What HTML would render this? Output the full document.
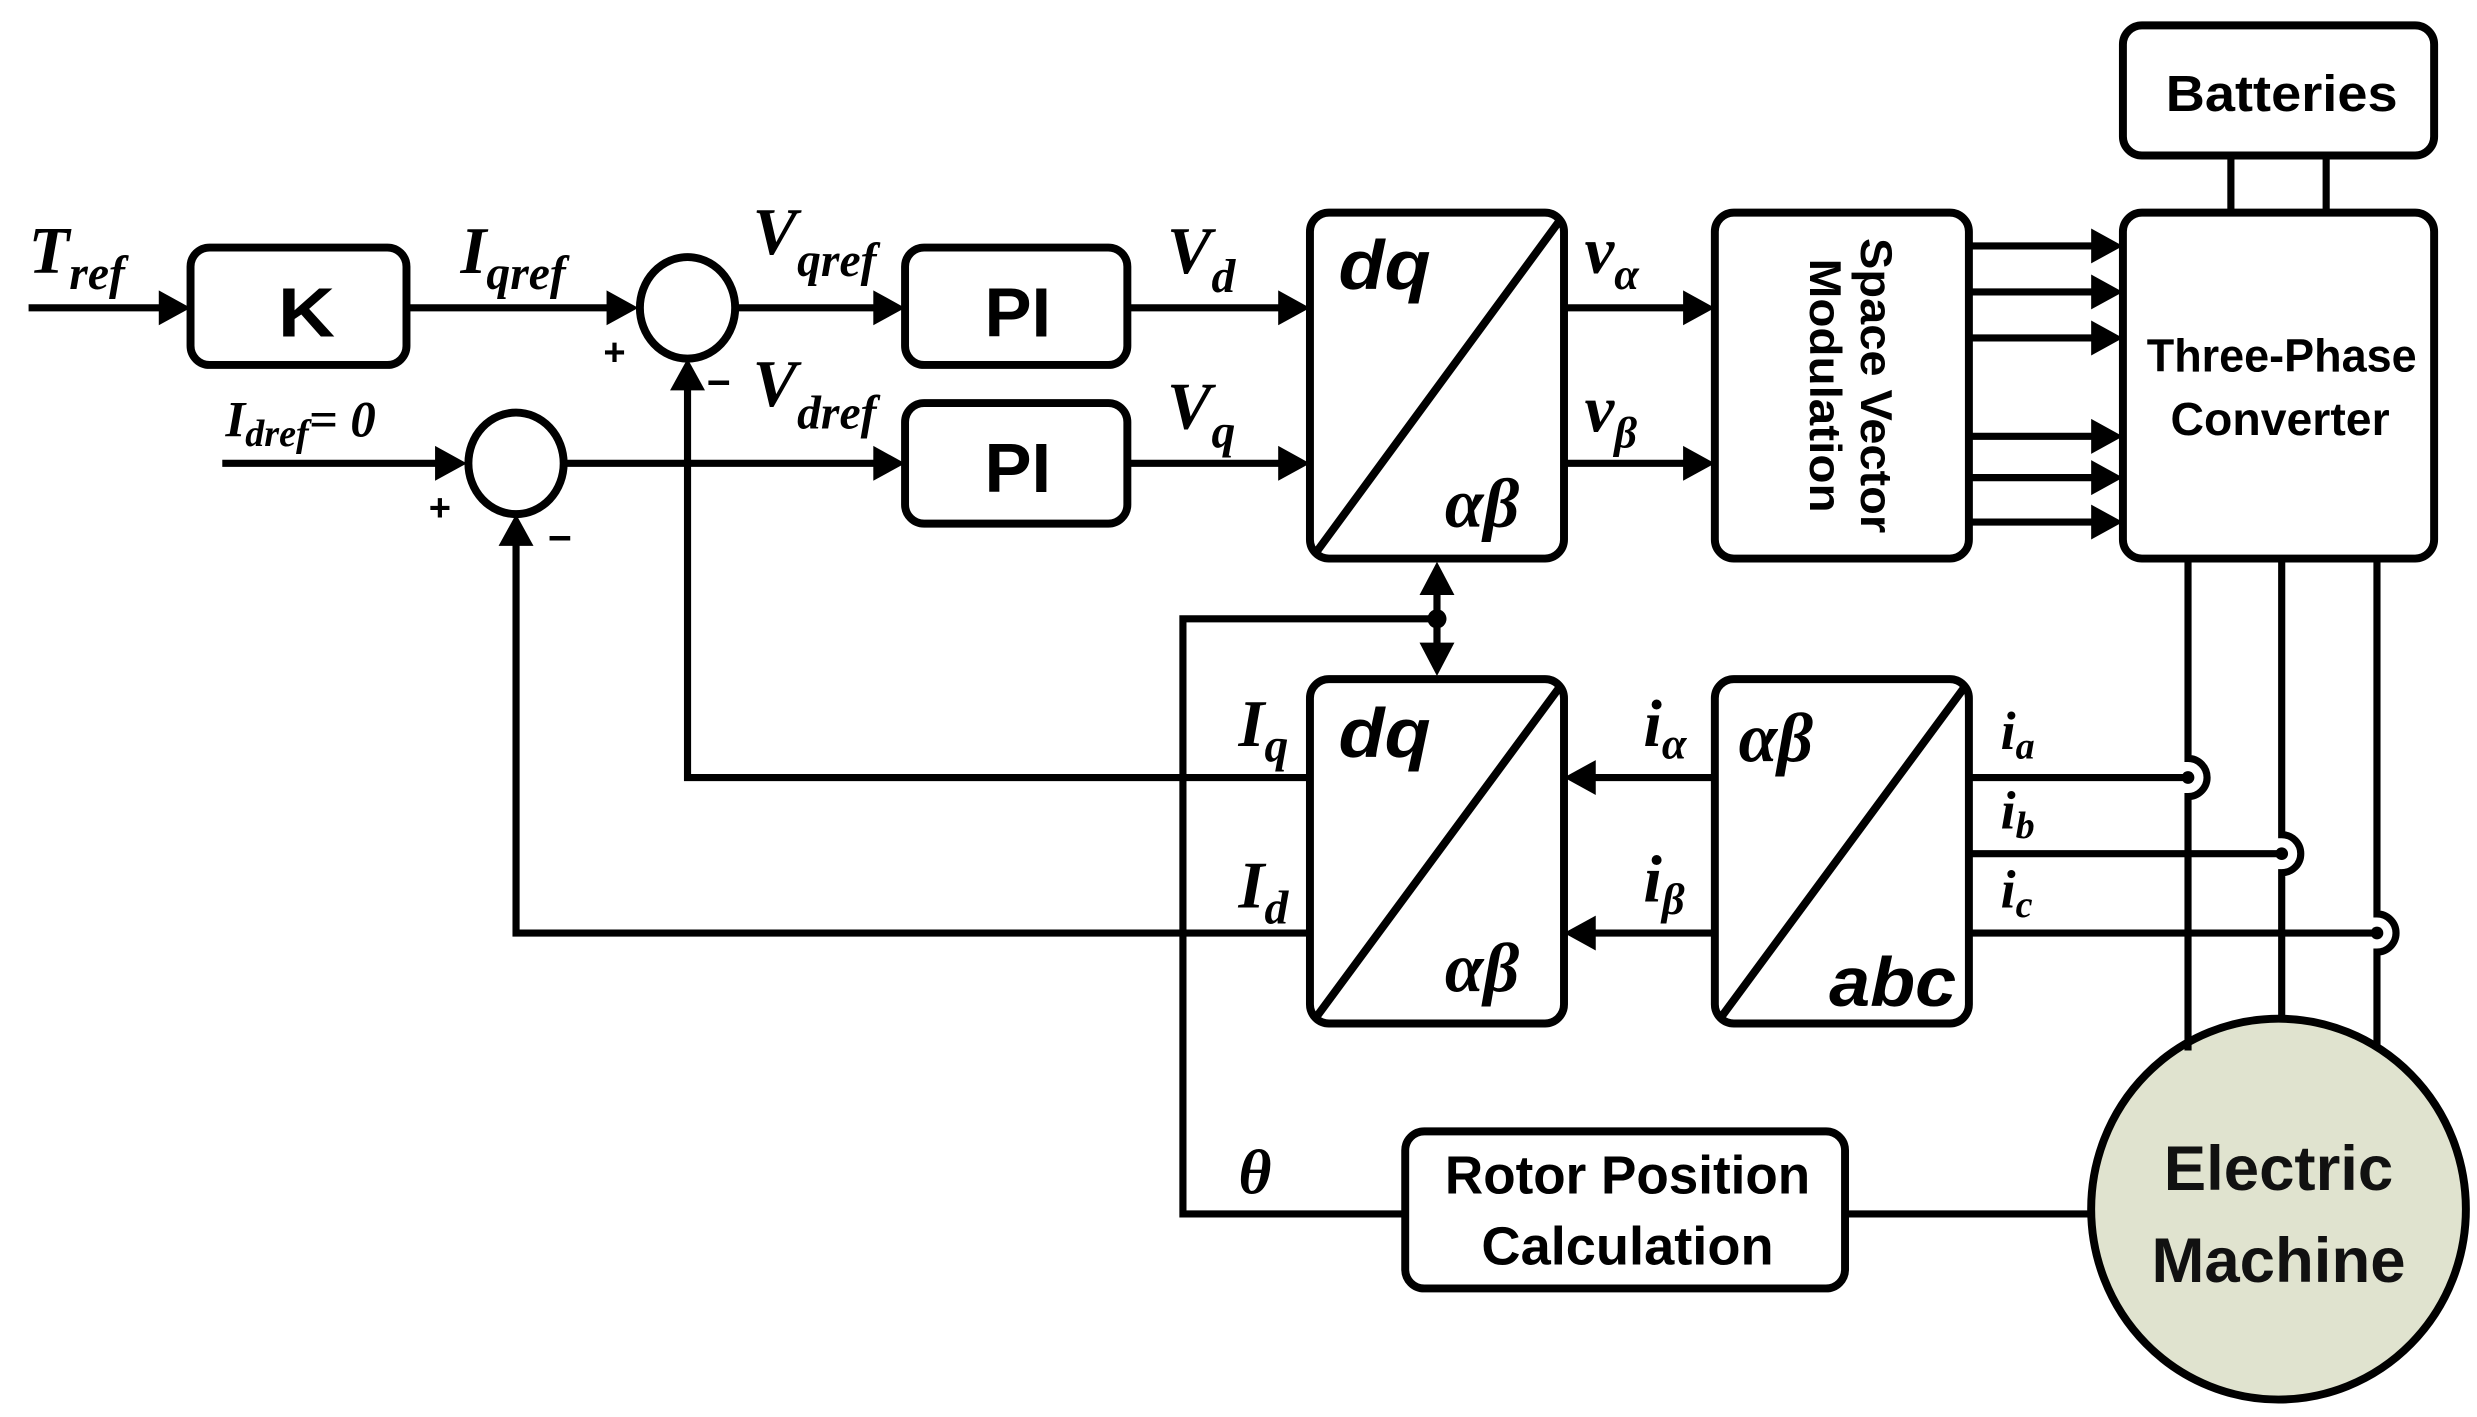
<!DOCTYPE html>
<html><head><meta charset="utf-8"><style>html,body{margin:0;padding:0;background:#fff}svg{display:block}</style></head>
<body>
<svg width="2477" height="1417" viewBox="0 0 1560 893" preserveAspectRatio="none" xmlns="http://www.w3.org/2000/svg">
<g fill="none" stroke="#000" stroke-width="5" stroke-linejoin="round">
<rect x="120" y="156" width="136" height="74" rx="12"/>
<rect x="570" y="156" width="140" height="74" rx="12"/>
<rect x="570" y="254" width="140" height="76" rx="12"/>
<rect x="825" y="134" width="160" height="218" rx="12"/>
<line x1="829" y1="348" x2="983" y2="138"/>
<rect x="1080" y="134" width="160" height="218" rx="12"/>
<rect x="1337" y="134" width="196" height="218" rx="12"/>
<rect x="1337" y="16" width="196" height="82" rx="12"/>
<rect x="825" y="428" width="160" height="217" rx="12"/>
<line x1="829" y1="641" x2="983" y2="432"/>
<rect x="1080" y="428" width="160" height="217" rx="12"/>
<line x1="1084" y1="641" x2="1238" y2="432"/>
<rect x="885" y="713" width="277" height="99" rx="12"/>
<ellipse cx="433" cy="194" rx="30" ry="32"/>
<ellipse cx="325" cy="292" rx="30" ry="32"/>
<ellipse cx="1435" cy="762" rx="118" ry="120" fill="#e0e3cf"/>
</g>
<g fill="none" stroke="#000" stroke-width="4.5">
<line x1="18" y1="194" x2="105" y2="194"/>
<line x1="256" y1="194" x2="385" y2="194"/>
<line x1="464" y1="194" x2="555" y2="194"/>
<line x1="140" y1="292" x2="278" y2="292"/>
<line x1="356" y1="292" x2="555" y2="292"/>
<line x1="710" y1="194" x2="810" y2="194"/>
<line x1="710" y1="292" x2="810" y2="292"/>
<line x1="985" y1="194" x2="1065" y2="194"/>
<line x1="985" y1="292" x2="1065" y2="292"/>
<line x1="1240" y1="155" x2="1322" y2="155"/>
<line x1="1240" y1="184" x2="1322" y2="184"/>
<line x1="1240" y1="213" x2="1322" y2="213"/>
<line x1="1240" y1="275" x2="1322" y2="275"/>
<line x1="1240" y1="301" x2="1322" y2="301"/>
<line x1="1240" y1="329" x2="1322" y2="329"/>
<line x1="1405" y1="98" x2="1405" y2="134"/>
<line x1="1465" y1="98" x2="1465" y2="134"/>
<polyline points="433,240 433,490 825,490"/>
<polyline points="325,338 325,588 825,588"/>
<line x1="1080" y1="490" x2="1000" y2="490"/>
<line x1="1080" y1="588" x2="1000" y2="588"/>
<polyline points="905,390 745,390 745,765 885,765"/>
<line x1="905" y1="370" x2="905" y2="410"/>
<line x1="1162" y1="765" x2="1317" y2="765"/>
<line x1="1240" y1="490" x2="1378" y2="490"/>
<line x1="1240" y1="538" x2="1437" y2="538"/>
<line x1="1240" y1="588" x2="1497" y2="588"/>
<path d="M1378 352 V478 A12 12 0 0 1 1378 502 V662"/>
<path d="M1437 352 V526 A12 12 0 0 1 1437 550 V643"/>
<path d="M1497 352 V576 A12 12 0 0 1 1497 600 V660"/>
</g>
<g fill="#000">
<polygon points="120,194 100,183 100,205"/>
<polygon points="402,194 382,183 382,205"/>
<polygon points="570,194 550,183 550,205"/>
<polygon points="294,292 274,281 274,303"/>
<polygon points="570,292 550,281 550,303"/>
<polygon points="825,194 805,183 805,205"/>
<polygon points="825,292 805,281 805,303"/>
<polygon points="1080,194 1060,183 1060,205"/>
<polygon points="1080,292 1060,281 1060,303"/>
<polygon points="1337,155 1317,144 1317,166"/>
<polygon points="1337,184 1317,173 1317,195"/>
<polygon points="1337,213 1317,202 1317,224"/>
<polygon points="1337,275 1317,264 1317,286"/>
<polygon points="1337,301 1317,290 1317,312"/>
<polygon points="1337,329 1317,318 1317,340"/>
<polygon points="433,226 422,246 444,246"/>
<polygon points="325,324 314,344 336,344"/>
<polygon points="985,490 1005,479 1005,501"/>
<polygon points="985,588 1005,577 1005,599"/>
<polygon points="905,354 894,375 916,375"/>
<polygon points="905,426 894,405 916,405"/>
<circle cx="905" cy="390" r="6"/>
<circle cx="1378" cy="490" r="4"/>
<circle cx="1437" cy="538" r="4"/>
<circle cx="1497" cy="588" r="4"/>
</g>
<g font-family="Liberation Serif, serif" font-style="italic" font-weight="bold" fill="#000">
<text x="18" y="172" font-size="42">T<tspan font-size="30" dy="10">ref</tspan></text>
<text x="290" y="172" font-size="42">I<tspan font-size="30" dy="10">qref</tspan></text>
<text x="474" y="160" font-size="42">V<tspan font-size="30" dy="14">qref</tspan></text>
<text x="474" y="256" font-size="42">V<tspan font-size="30" dy="14">dref</tspan></text>
<text x="142" y="275" font-size="32">I<tspan font-size="24" dy="6">dref</tspan><tspan dy="-6">= 0</tspan></text>
<text x="735" y="172" font-size="42">V<tspan font-size="30" dy="12">d</tspan></text>
<text x="735" y="270" font-size="42">V<tspan font-size="30" dy="12">q</tspan></text>
<text x="998" y="172" font-size="42">v<tspan font-size="28" dy="10">α</tspan></text>
<text x="998" y="272" font-size="42">v<tspan font-size="28" dy="10">β</tspan></text>
<text x="910" y="332" font-size="44">αβ</text>
<text x="910" y="625" font-size="44">αβ</text>
<text x="1095" y="480" font-size="44">αβ</text>
<text x="780" y="470" font-size="42">I<tspan font-size="30" dy="10">q</tspan></text>
<text x="780" y="572" font-size="42">I<tspan font-size="30" dy="10">d</tspan></text>
<text x="1035" y="470" font-size="42">i<tspan font-size="28" dy="8">α</tspan></text>
<text x="1035" y="568" font-size="42">i<tspan font-size="28" dy="8">β</tspan></text>
<text x="1260" y="472" font-size="34">i<tspan font-size="24" dy="6">a</tspan></text>
<text x="1260" y="522" font-size="34">i<tspan font-size="24" dy="6">b</tspan></text>
<text x="1260" y="572" font-size="34">i<tspan font-size="24" dy="6">c</tspan></text>
<text x="780" y="752" font-size="40">θ</text>
</g>
<g font-family="Liberation Sans, sans-serif" font-weight="bold" fill="#000">
<text x="175" y="212" font-size="44" textLength="36" lengthAdjust="spacingAndGlyphs">K</text>
<text x="620" y="212" font-size="44" textLength="42" lengthAdjust="spacingAndGlyphs">PI</text>
<text x="620" y="310" font-size="44" textLength="42" lengthAdjust="spacingAndGlyphs">PI</text>
<text x="380" y="230" font-size="24">+</text>
<text x="445" y="250" font-size="26">−</text>
<text x="270" y="328" font-size="24">+</text>
<text x="345" y="348" font-size="26">−</text>
<text x="843" y="182" font-size="44" font-style="italic" textLength="58" lengthAdjust="spacingAndGlyphs">dq</text>
<text x="843" y="477" font-size="44" font-style="italic" textLength="58" lengthAdjust="spacingAndGlyphs">dq</text>
<text x="1152" y="634" font-size="44" font-style="italic" textLength="80" lengthAdjust="spacingAndGlyphs">abc</text>
<text x="1364" y="70" font-size="32" textLength="146" lengthAdjust="spacingAndGlyphs">Batteries</text>
<text x="1352" y="234" font-size="29" textLength="170" lengthAdjust="spacingAndGlyphs">Three-Phase</text>
<text x="1367" y="274" font-size="29" textLength="138" lengthAdjust="spacingAndGlyphs">Converter</text>
<text x="910" y="752" font-size="34" textLength="230" lengthAdjust="spacingAndGlyphs">Rotor Position</text>
<text x="933" y="797" font-size="34" textLength="184" lengthAdjust="spacingAndGlyphs">Calculation</text>
<g transform="translate(1160,243) rotate(90)">
<text x="0" y="-12" font-size="28" text-anchor="middle" textLength="186" lengthAdjust="spacingAndGlyphs">Space Vector</text>
<text x="0" y="20" font-size="28" text-anchor="middle" textLength="160" lengthAdjust="spacingAndGlyphs">Modulation</text>
</g>
<text x="1435" y="750" font-size="40" text-anchor="middle" fill="#111">Electric</text>
<text x="1435" y="808" font-size="40" text-anchor="middle" fill="#111">Machine</text>
</g>
</svg>
</body></html>
